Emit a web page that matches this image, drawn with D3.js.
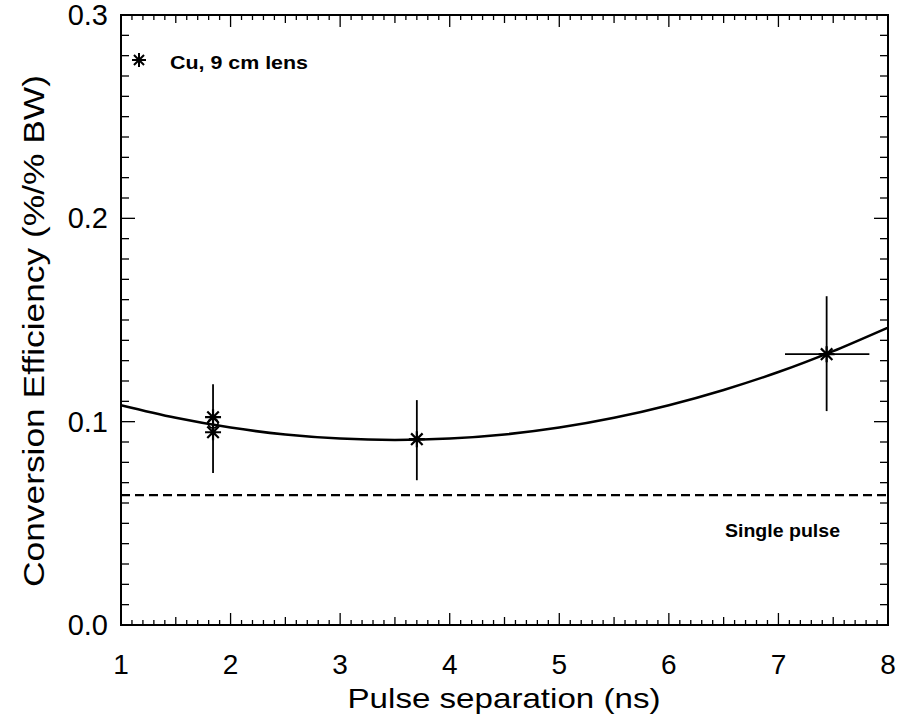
<!DOCTYPE html>
<html><head><meta charset="utf-8">
<script src="https://cdn.jsdelivr.net/npm/d3@7/dist/d3.min.js"></script>
<style>body{margin:0;background:#fff}svg{display:block}</style>
</head><body>
<script>
// ---- data ----
const xTicks = [1,2,3,4,5,6,7,8];
const yTicks = [0.0,0.1,0.2,0.3];
const yTickLabels = ["0.0","0.1","0.2","0.3"];
const pointsX = [1.84, 1.84, 3.70, 7.44];
const pointsY = [0.1022, 0.0948, 0.0914, 0.1332];
const circleX = [1.84];
const circleY = [0.0993];
const errX = [1.84, 3.70, 7.44];
const errYLow = [0.0748, 0.0712, 0.1052];
const errYHigh = [0.1184, 0.1106, 0.1617];
const errXLow = [null, null, 7.06];
const errXHigh = [null, null, 7.83];
const fitX = [1,1.5,2,2.5,3,3.5,4,4.5,5,5.5,6,6.5,7,7.5,8];
const fitY = [0.1081,0.1019,0.0971,0.0937,0.0917,0.0910,0.0917,0.0937,0.0971,0.1019,0.1081,0.1156,0.1244,0.1347,0.1463];
const singlePulse = 0.0639;
const legendText = "Cu, 9 cm lens";
const singleLabel = "Single pulse";
const xTitle = "Pulse separation (ns)";
const yTitle = "Conversion Efficiency (%/% BW)";

const W = 902, H = 714;
const L = 121, R = 888, T = 15, B = 625;
const svg = d3.select("body").append("svg").attr("width", W).attr("height", H);
const x = d3.scaleLinear().domain([1, 8]).range([L, R]);
const y = d3.scaleLinear().domain([0, 0.3]).range([B, T]);
const font = "'Liberation Sans', Arial, sans-serif";

// minor / major ticks
const xMinor = d3.range(1, 8.0001, 0.1);
const yMinor = d3.range(0, 0.3001, 0.01);
const g = svg.append("g").attr("stroke", "#000").attr("fill", "none");
xMinor.forEach(v => {
  const isMajor = Math.abs(v - Math.round(v)) < 1e-6;
  const half = Math.abs(v * 2 - Math.round(v * 2)) < 1e-6;
  const len = isMajor ? 12 : (half ? 8 : 5);
  g.append("line").attr("x1", x(v)).attr("x2", x(v)).attr("y1", B).attr("y2", B - len).attr("stroke-width", 1.3);
  g.append("line").attr("x1", x(v)).attr("x2", x(v)).attr("y1", T).attr("y2", T + len).attr("stroke-width", 1.3);
});
yMinor.forEach(v => {
  const isMajor = Math.abs(v * 10 - Math.round(v * 10)) < 1e-6;
  const len = isMajor ? 14 : 8;
  g.append("line").attr("x1", L).attr("x2", L + len).attr("y1", y(v)).attr("y2", y(v)).attr("stroke-width", 1.3);
  g.append("line").attr("x1", R).attr("x2", R - len).attr("y1", y(v)).attr("y2", y(v)).attr("stroke-width", 1.3);
});
svg.append("rect").attr("x", L).attr("y", T).attr("width", R - L).attr("height", B - T)
  .attr("fill", "none").attr("stroke", "#000").attr("stroke-width", 2);

// tick labels
svg.append("g").selectAll("text").data(xTicks).join("text")
  .attr("x", d => x(d)).attr("y", 674).attr("text-anchor", "middle")
  .attr("font-family", font).attr("font-size", 28).text(d => d);
svg.append("g").selectAll("text").data(yTicks).join("text")
  .attr("x", 108).attr("y", d => y(d) + 10).attr("text-anchor", "end")
  .attr("font-family", font).attr("font-size", 29).text((d, i) => yTickLabels[i]);

// axis titles
svg.append("text").attr("x", 504).attr("y", 708).attr("text-anchor", "middle")
  .attr("font-family", font).attr("font-size", 28).attr("textLength", 313).attr("lengthAdjust", "spacingAndGlyphs").text(xTitle);
svg.append("text").attr("transform", "translate(44,331) rotate(-90)").attr("text-anchor", "middle")
  .attr("font-family", font).attr("font-size", 30).attr("textLength", 512).attr("lengthAdjust", "spacingAndGlyphs").text(yTitle);

// fit curve
const line = d3.line().x((d, i) => x(fitX[i])).y(d => y(d)).curve(d3.curveCatmullRom);
svg.append("path").attr("d", line(fitY)).attr("fill", "none").attr("stroke", "#000").attr("stroke-width", 2.5);

// single pulse dashed line
svg.append("line").attr("x1", x(1)).attr("x2", x(8)).attr("y1", y(singlePulse)).attr("y2", y(singlePulse))
  .attr("stroke", "#000").attr("stroke-width", 2.2).attr("stroke-dasharray", "9,5");

// error bars
errX.forEach((v, i) => {
  svg.append("line").attr("x1", x(v)).attr("x2", x(v)).attr("y1", y(errYLow[i])).attr("y2", y(errYHigh[i]))
    .attr("stroke", "#000").attr("stroke-width", 1.8);
  if (errXLow[i] !== null) {
    svg.append("line").attr("x1", x(errXLow[i])).attr("x2", x(errXHigh[i])).attr("y1", y(pointsY[3])).attr("y2", y(pointsY[3]))
      .attr("stroke", "#000").attr("stroke-width", 1.8);
  }
});

// asterisk markers
function star(cx, cy, r) {
  const a = r * 0.72;
  return `M${cx - r},${cy}L${cx + r},${cy}M${cx},${cy - r}L${cx},${cy + r}` +
    `M${cx - a},${cy - a}L${cx + a},${cy + a}M${cx - a},${cy + a}L${cx + a},${cy - a}`;
}
pointsX.forEach((v, i) => {
  svg.append("path").attr("d", star(x(v), y(pointsY[i]), 8)).attr("stroke", "#000").attr("stroke-width", 2.2).attr("fill", "none");
});
circleX.forEach((v, i) => {
  svg.append("circle").attr("cx", x(v)).attr("cy", y(circleY[i])).attr("r", 5)
    .attr("fill", "none").attr("stroke", "#000").attr("stroke-width", 1.6);
});

// legend
svg.append("path").attr("d", star(139, 60, 7)).attr("stroke", "#000").attr("stroke-width", 2).attr("fill", "none");
svg.append("text").attr("x", 170).attr("y", 69).attr("font-family", font).attr("font-weight", "bold")
  .attr("font-size", 19).attr("textLength", 138).attr("lengthAdjust", "spacingAndGlyphs").text(legendText);
svg.append("text").attr("x", 725).attr("y", 537).attr("font-family", font).attr("font-weight", "bold")
  .attr("font-size", 19).attr("textLength", 115).attr("lengthAdjust", "spacingAndGlyphs").text(singleLabel);
</script>
</body></html>
